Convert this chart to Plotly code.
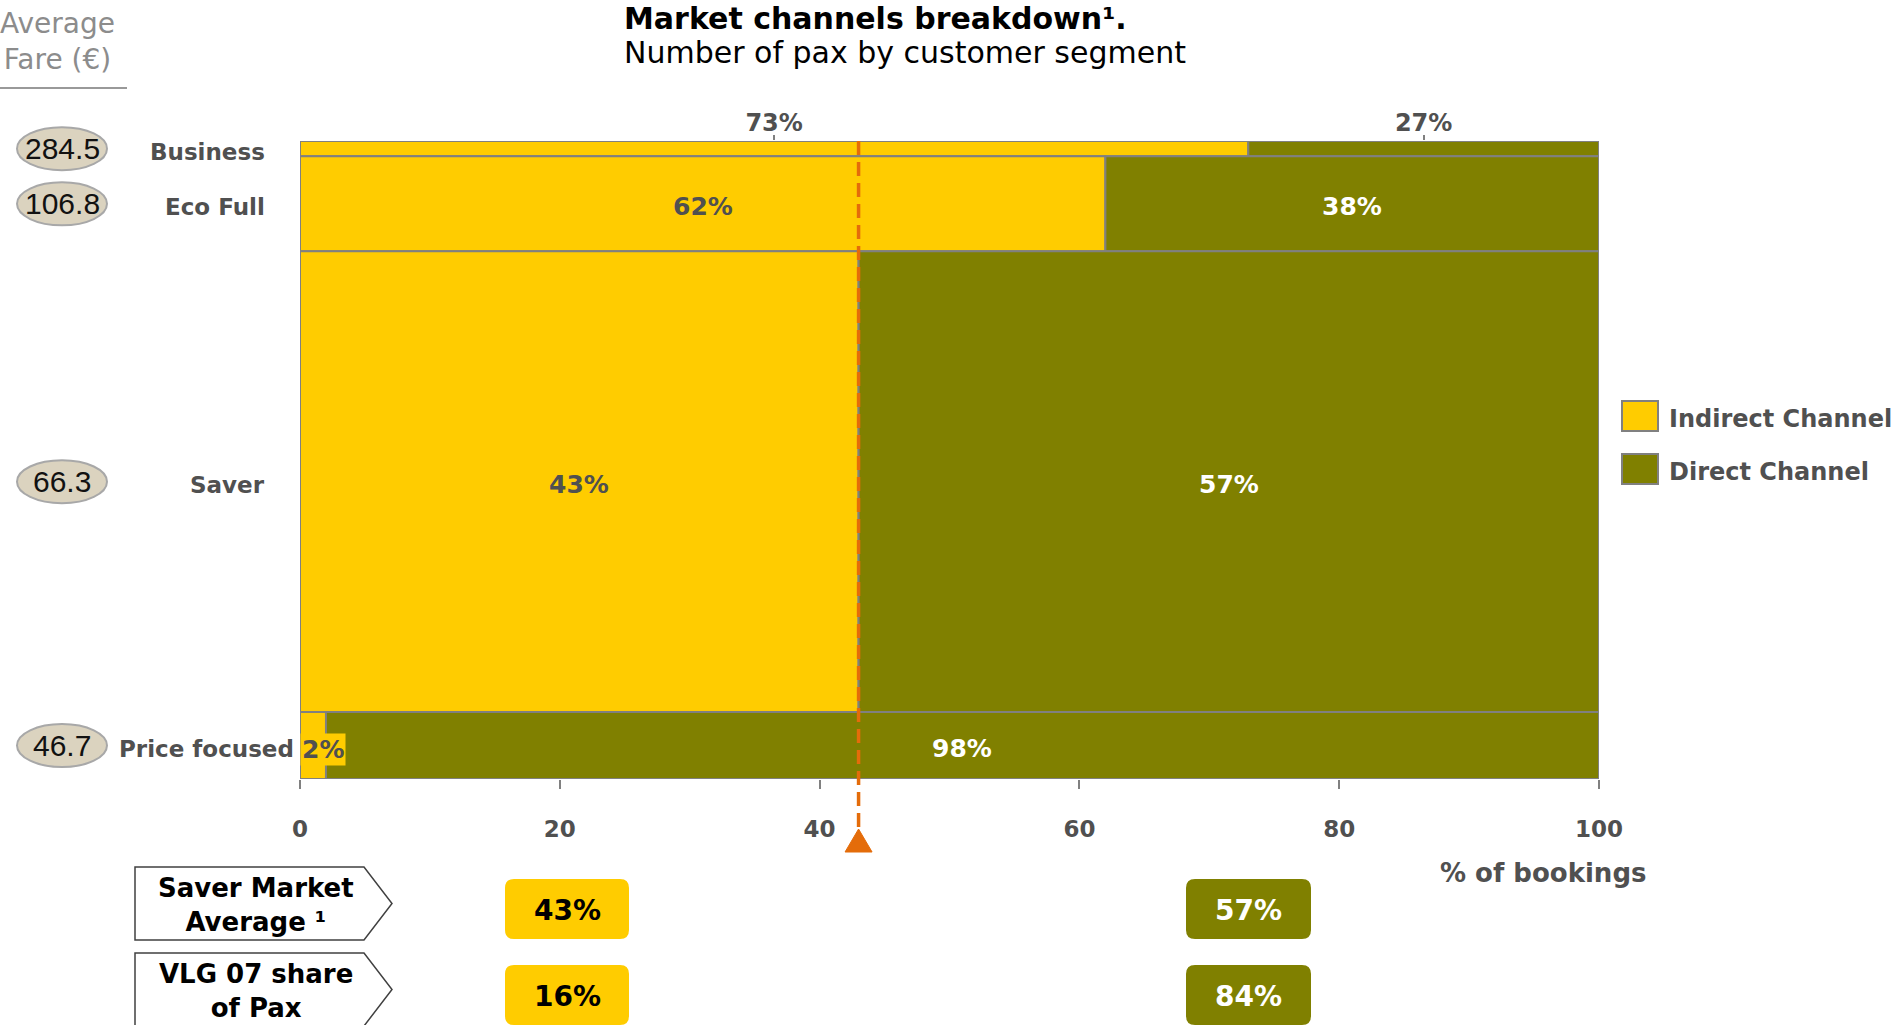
import plotly.graph_objects as go

# ---- data -----------------------------------------------------------------
segments = ["Business", "Eco Full", "Saver", "Price focused"]
pax_share = [2.4, 14.9, 72.2, 10.5]          # share of pax -> bar thickness
indirect = [73, 62, 43, 2]                    # % of bookings, indirect channel
direct = [27, 38, 57, 98]                     # % of bookings, direct channel
avg_fare = [284.5, 106.8, 66.3, 46.7]         # average fare (EUR)
x_ticks = [0, 20, 40, 60, 80, 100]

saver_market_avg = [43, 57]                   # indirect / direct
vlg_share = [16, 84]                          # indirect / direct

# ---- style ----------------------------------------------------------------
YELLOW = "#FFCC00"
OLIVE = "#808000"
EDGE = "#808080"
TXT = "#505050"
ORANGE = "#E46C0A"
FONT = "DejaVu Sans"

W, H = 1893, 1025
ML, MR, MT, MB = 300, 294, 141, 246
PW, PH = W - ML - MR, H - MT - MB


def px(xp):
    """pixel x -> paper x"""
    return (xp - ML) / PW


def py(yp):
    """pixel y -> paper y"""
    return 1 - (yp - MT) / PH


def text(x, y, s, size, color, bold=False, family=FONT, xref="paper", yref="paper",
         xanchor="center", yanchor="middle", **kw):
    d = dict(x=x, y=y, xref=xref, yref=yref, text=s, showarrow=False,
             xanchor=xanchor, yanchor=yanchor,
             font=dict(family=family, size=size, color=color,
                       weight="bold" if bold else "normal"))
    d.update(kw)
    return d


# bar centres along the (reversed) y axis
centers = []
acc = 0
for s in pax_share:
    centers.append(acc + s / 2)
    acc += s
y_total = acc

fig = go.Figure()

fig.add_trace(go.Bar(
    y=centers, x=indirect, base=[0] * len(indirect), width=pax_share,
    orientation="h", name="Indirect Channel", showlegend=False,
    marker=dict(color=YELLOW, line=dict(color=EDGE, width=2)),
    hoverinfo="skip",
))
fig.add_trace(go.Bar(
    y=centers, x=direct, base=indirect, width=pax_share,
    orientation="h", name="Direct Channel", showlegend=False,
    marker=dict(color=OLIVE, line=dict(color=EDGE, width=2)),
    hoverinfo="skip",
))
# invisible trace to carry the top axis
fig.add_trace(go.Scatter(x=[0, 100], y=[0, 0], xaxis="x2", mode="markers",
                         marker=dict(opacity=0), showlegend=False, hoverinfo="skip"))

shapes = []
ann = []

# labels inside the bars (the thin Business row is labelled on the top axis)
for i in range(1, len(segments)):
    if indirect[i] >= 5:
        ann.append(text(indirect[i] / 2, centers[i], f"{indirect[i]}%", 25, TXT, True,
                        xref="x", yref="y", yshift=-3))
    else:
        ann.append(text(0, centers[i], f"{indirect[i]}%", 25, TXT, True,
                        xref="x", yref="y", xanchor="left", yshift=-4,
                        bgcolor=YELLOW, borderpad=1))
    ann.append(text(indirect[i] + direct[i] / 2, centers[i], f"{direct[i]}%", 25,
                    "white", True, xref="x", yref="y", yshift=-3))

# segment names and average-fare ellipses
ell_h = 43 / PH
for i, name in enumerate(segments):
    right = 296 if len(name) > 10 else 267
    ann.append(text(px(right), centers[i], name, 23, TXT, True, yref="y",
                    xanchor="right", yshift=-3))
    yc = 1 - centers[i] / y_total
    shapes.append(dict(type="circle", xref="paper", yref="paper",
                       x0=px(17), x1=px(107), y0=yc - ell_h / 2, y1=yc + ell_h / 2,
                       fillcolor="#DBD3BF", line=dict(color="#A8A8A8", width=2),
                       layer="above"))
    ann.append(text(px(62), yc, f"{avg_fare[i]:.1f}", 30, "#111111",
                    family="Liberation Sans"))

# saver market average marker: dashed line + triangle
avg_x = saver_market_avg[0]
shapes.append(dict(type="line", xref="x", yref="paper", x0=avg_x, x1=avg_x,
                   y0=1, y1=py(830), line=dict(color=ORANGE, width=3.5, dash="14px,7px")))
half = 13.5 / (PW / 100)
shapes.append(dict(type="path", xref="x", yref="paper",
                   path=f"M {avg_x - half},{py(852)} L {avg_x + half},{py(852)} L {avg_x},{py(829)} Z",
                   fillcolor=ORANGE, line=dict(color=ORANGE, width=1)))

# legend
legend_items = [("Indirect Channel", YELLOW, 416), ("Direct Channel", OLIVE, 469)]
for label, col, cy in legend_items:
    shapes.append(dict(type="rect", xref="paper", yref="paper",
                       x0=px(1622), x1=px(1658), y0=py(cy - 15), y1=py(cy + 15),
                       fillcolor=col, line=dict(color=EDGE, width=2)))
    ann.append(text(px(1667), py(cy + 3), label, 24, TXT, True, xanchor="left"))

# titles
ann.append(text(px(622), py(18), "Market channels breakdown¹.", 30, "black", True,
                xanchor="left"))
ann.append(text(px(622), py(53), "Number of pax by customer segment", 30, "black",
                xanchor="left"))
ann.append(text(px(57), py(41), "Average<br>Fare (€)", 28, "#8C8C8C"))
shapes.append(dict(type="line", xref="paper", yref="paper", x0=px(0), x1=px(127),
                   y0=py(88), y1=py(88), line=dict(color="#999999", width=2)))
ann.append(text(px(1543), py(873), "% of bookings", 26, TXT, True))


def to_path(points):
    parts = []
    for cmd, pts in points:
        coords = " ".join(f"{px(a)},{py(b)}" for a, b in pts)
        parts.append(f"{cmd} {coords}")
    return " ".join(parts) + " Z"


def rounded_rect(x0, y0, x1, y1, r):
    return to_path([
        ("M", [(x0 + r, y0)]), ("L", [(x1 - r, y0)]), ("Q", [(x1, y0), (x1, y0 + r)]),
        ("L", [(x1, y1 - r)]), ("Q", [(x1, y1), (x1 - r, y1)]),
        ("L", [(x0 + r, y1)]), ("Q", [(x0, y1), (x0, y1 - r)]),
        ("L", [(x0, y0 + r)]), ("Q", [(x0, y0), (x0 + r, y0)]),
    ])


def arrow_box(x0, y0, x1, tip, y1):
    mid = (y0 + y1) / 2
    return to_path([("M", [(x0, y0)]), ("L", [(x1, y0)]), ("L", [(tip, mid)]),
                    ("L", [(x1, y1)]), ("L", [(x0, y1)])])


# summary rows below the chart
rows = [("Saver Market<br>Average ¹", saver_market_avg, 867, 940),
        ("VLG 07 share<br>of Pax", vlg_share, 953, 1026)]
for label, vals, top, bot in rows:
    shapes.append(dict(type="path", xref="paper", yref="paper",
                       path=arrow_box(135, top, 364, 392, bot),
                       fillcolor="white", line=dict(color="#404040", width=1.5)))
    ann.append(text(px(256), py((top + bot) / 2 + 1), label, 26, "black", True))
    btop, bbot = top + 12, top + 72
    for (x0, x1, col, tcol), v in zip([(505, 629, YELLOW, "black"),
                                       (1186, 1311, OLIVE, "white")], vals):
        shapes.append(dict(type="path", xref="paper", yref="paper",
                           path=rounded_rect(x0, btop, x1, bbot, 9),
                           fillcolor=col, line=dict(width=0)))
        ann.append(text(px((x0 + x1) / 2), py((btop + bbot) / 2 + 1), f"{v}%", 28,
                        tcol, True))

top_ticks = [indirect[0] / 2, indirect[0] + direct[0] / 2]

fig.update_layout(
    width=W, height=H,
    margin=dict(l=ML, r=MR, t=MT, b=MB),
    paper_bgcolor="white", plot_bgcolor="white",
    barmode="overlay",
    showlegend=False,
    xaxis=dict(range=[0, 100], tickvals=x_ticks, ticks="outside", ticklen=9,
               tickwidth=2, tickcolor=EDGE, showgrid=False, zeroline=False,
               showline=False, ticklabelstandoff=20,
               tickfont=dict(family=FONT, size=23, color=TXT, weight="bold")),
    xaxis2=dict(range=[0, 100], overlaying="x", side="top", anchor="y",
                tickvals=top_ticks, ticktext=[f"{indirect[0]}%", f"{direct[0]}%"],
                ticks="outside", ticklen=5, tickwidth=1.5, tickcolor=EDGE,
                showgrid=False, zeroline=False, showline=False,
                ticklabelstandoff=-6,
                tickfont=dict(family=FONT, size=24, color=TXT, weight="bold")),
    yaxis=dict(range=[y_total, 0], visible=False, fixedrange=True),
    shapes=shapes,
    annotations=ann,
)

fig.write_html("out.html")
